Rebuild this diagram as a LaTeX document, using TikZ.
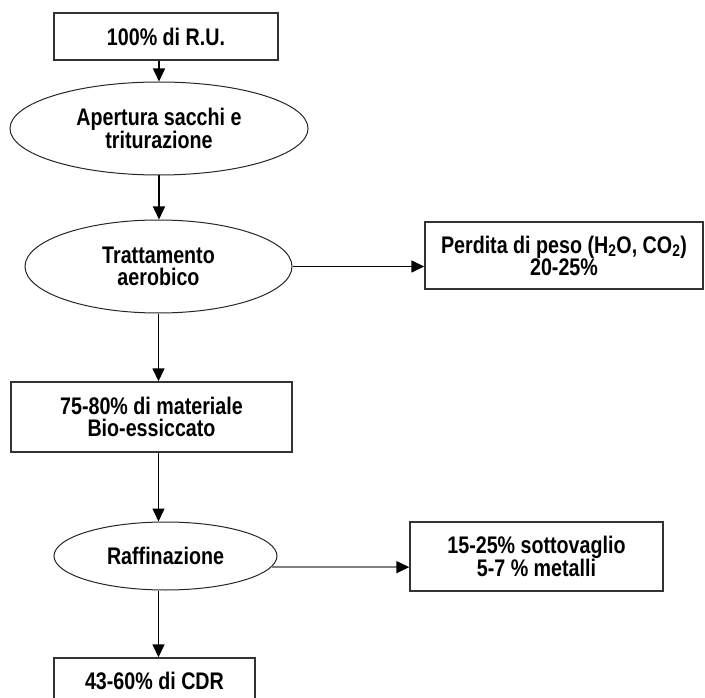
\documentclass[tikz,border=0pt]{standalone}
\usepackage{fontspec}
\setmainfont{Liberation Sans}[FakeStretch=0.82]
\usetikzlibrary{shapes.geometric,arrows.meta}
\begin{document}
\begin{tikzpicture}[x=1pt,y=-1pt,
  every node/.style={font=\bfseries\fontsize{24}{22}\selectfont, align=center, inner sep=0pt, text=black},
  stepbox/.style={draw=black!80, line width=1.4pt, rectangle},
  phase/.style={draw=black!85, line width=1pt, ellipse},
  arr/.style={line width=1.5pt, -{Triangle[length=13pt,width=12pt]}},
  garr/.style={line width=1.5pt, draw=black!50, -{Triangle[length=13pt,width=12pt,color=black]}}]
\useasboundingbox (0,0) rectangle (705,698);
\clip (0,0) rectangle (705,698);

% process chain
\node[stepbox, minimum width=224pt, minimum height=47pt] (b1) at (166,36.5) {100\% di R.U.};
\node[phase, minimum width=298pt, minimum height=93pt] (e1) at (159,128.5) {Apertura sacchi e\\triturazione};
\node[phase, minimum width=267pt, minimum height=93pt] (e2) at (158.5,266.5) {Trattamento\\aerobico};
\node[stepbox, minimum width=281pt, minimum height=70pt] (b3) at (151.5,417) {75-80\% di materiale\\Bio-essiccato};
\node[phase, minimum width=223pt, minimum height=68pt] (e3) at (165.5,556) {Raffinazione};
\node[stepbox, minimum width=201pt, minimum height=46pt] (b5) at (154.5,681) {43-60\% di CDR};

% side outputs
\node[stepbox, minimum width=278pt, minimum height=67pt] (p1) at (564,255.5) {Perdita di peso (H\textsubscript{2}O, CO\textsubscript{2})\\20-25\%};
\node[stepbox, minimum width=253pt, minimum height=69pt] (p2) at (536.5,556.5) {15-25\% sottovaglio\\5-7 \% metalli};

% connectors
\draw[arr] (e1.north |- b1.south) -- (e1.north);
\draw[arr] (e1.south) -- (e1.south |- e2.north);
\draw[arr] (e2.east) -- (e2.east -| p1.west);
\draw[arr] (e2.south) -- (e2.south |- b3.north);
\draw[arr] (b3.south -| e2.south) -- (e3.north -| e2.south);
\draw[garr] (e3.-6.2) -- (e3.-6.2 -| p2.west);
\draw[arr] (e3.south -| e2.south) -- (b5.north -| e2.south);
\end{tikzpicture}
\end{document}
